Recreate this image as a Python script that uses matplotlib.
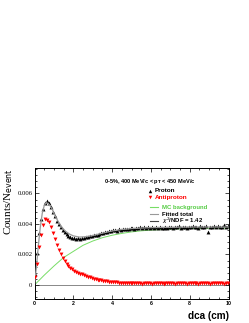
import numpy as np
import matplotlib
matplotlib.use("Agg")
import matplotlib.pyplot as plt
from matplotlib.lines import Line2D
from matplotlib.ticker import MultipleLocator

# ---------------- data ----------------
dca_centers = [round(0.05 + 0.1 * i, 2) for i in range(100)]

proton = [
    0.00075, 0.0021, 0.0034, 0.0043, 0.0050, 0.0054, 0.00552, 0.0054, 0.0051, 0.0048,
    0.0045, 0.0042, 0.0040, 0.0038, 0.0036, 0.00345, 0.00332, 0.00322, 0.00316, 0.0031,
    0.00306, 0.00304, 0.00306, 0.00303, 0.00308, 0.0031, 0.00312, 0.00315, 0.00318, 0.00322,
    0.00325, 0.0033, 0.00328, 0.00336, 0.0034, 0.00343, 0.0035, 0.00348, 0.00355, 0.00353,
    0.00358, 0.0036, 0.00357, 0.00364, 0.00362, 0.00367, 0.00364, 0.0037, 0.00366, 0.00372,
    0.00374, 0.0037, 0.00376, 0.00372, 0.00378, 0.00374, 0.00379, 0.00375, 0.0038, 0.00376,
    0.00378, 0.00373, 0.00379, 0.00375, 0.00381, 0.00376, 0.00373, 0.00379, 0.00376, 0.00382,
    0.00377, 0.00373, 0.0038, 0.00378, 0.00384, 0.00376, 0.00381, 0.00378, 0.00374, 0.00383,
    0.00379, 0.00385, 0.00377, 0.00382, 0.00375, 0.00384, 0.0038, 0.00377, 0.00386, 0.00345,
    0.00381, 0.00378, 0.00385, 0.0038, 0.00388, 0.00379, 0.00383, 0.0039, 0.0038, 0.00384,
]

antiproton = [
    0.0005, 0.0014, 0.0025, 0.0033, 0.0039, 0.0043, 0.00425, 0.0041, 0.0038, 0.0034,
    0.0030, 0.0026, 0.0023, 0.0020, 0.0018, 0.00155, 0.0014, 0.00125, 0.00112, 0.00102,
    0.00094, 0.00087, 0.0008, 0.00074, 0.00069, 0.00063, 0.00059, 0.00054, 0.0005, 0.00046,
    0.00042, 0.00039, 0.00035, 0.00033, 0.0003, 0.00028, 0.00026, 0.00024, 0.00022, 0.00021,
    0.00019, 0.00018, 0.00017, 0.00016, 0.00015, 0.00014, 0.00014, 0.00013, 0.00012, 0.00012,
    0.00011, 0.0001, 0.00012, 0.0001, 0.00011, 0.00009, 0.00011, 0.0001, 0.00012, 0.0001,
    0.00009, 0.00011, 0.0001, 0.00012, 0.0001, 0.00011, 0.00009, 0.0001, 0.00011, 0.0001,
    0.00012, 0.0001, 0.00009, 0.00011, 0.0001, 0.00012, 0.00011, 0.0001, 0.00009, 0.00011,
    0.0001, 0.00012, 0.0001, 0.00011, 0.00009, 0.0001, 0.00012, 0.00011, 0.0001, 0.00011,
    0.00009, 0.0001, 0.00012, 0.0001, 0.00011, 0.0001, 0.00012, 0.00009, 0.00011, 0.0001,
]

bg_x = [0, 0.5, 1.0, 1.5, 2.0, 2.5, 3.0, 3.5, 4.0, 4.5, 5.0, 5.5, 6.0, 7.0, 8.0, 9.0, 10.0]
bg_y = [0, 0.00064, 0.00124, 0.0018, 0.0022, 0.0026, 0.00288, 0.0031, 0.00326, 0.00338,
        0.00348, 0.00355, 0.0036, 0.00366, 0.0037, 0.00372, 0.00373]

fit_x = [0, 0.1, 0.2, 0.3, 0.4, 0.5, 0.6, 0.7, 0.8, 0.9, 1.0, 1.2, 1.4, 1.6, 1.8, 2.0,
         2.3, 2.6, 3.0, 3.5, 4.0, 4.5, 5.0, 6.0, 7.0, 8.0, 10.0]
fit_y = [0, 0.0012, 0.0026, 0.0038, 0.0047, 0.0052, 0.0054, 0.00535, 0.0052, 0.0050,
         0.0047, 0.0042, 0.0038, 0.00352, 0.00334, 0.00322, 0.00314, 0.00316, 0.00324,
         0.0034, 0.00354, 0.00364, 0.0037, 0.00376, 0.00378, 0.0038, 0.0038]

x_ticks = [0, 2, 4, 6, 8, 10]
y_ticks = [0, 0.002, 0.004, 0.006]
y_tick_labels = ["0", "0.002", "0.004", "0.006"]

header = r"0-5%, 400 MeV/c < p$_\mathbf{T}$ < 450 MeV/c"
chi2_label = r"$\chi^2$/NDF = 1.42"

# ---------------- figure ----------------
W, H = 249, 323
fig = plt.figure(figsize=(W / 100, H / 100), dpi=100)
ax = fig.add_axes([34.5 / W, (H - 299.3) / H, (228.5 - 34.5) / W, (299.3 - 168) / H])

ax.set_xlim(0, 10)
ax.set_ylim(-0.00094, 0.00767)

ax.axhline(0, color="#888888", lw=0.7, zorder=1)

ax.plot(bg_x, bg_y, color="#77dd66", lw=0.7, zorder=2)
ax.plot(dca_centers, proton, ls="none", marker="^", ms=2.8, color="black",
        markeredgewidth=0, zorder=3)
ax.plot(fit_x, fit_y, color="#999999", lw=0.9, zorder=4)
ax.plot(dca_centers, antiproton, ls="none", marker="v", ms=2.8, color="red",
        markeredgewidth=0, zorder=5)

sans = ["Liberation Sans", "DejaVu Sans"]
serif = ["Liberation Serif", "DejaVu Serif"]

ax.set_xticks(x_ticks)
ax.set_xticklabels([str(t) for t in x_ticks], fontsize=3.8, fontweight="bold", family=sans)
ax.xaxis.set_minor_locator(MultipleLocator(0.5))
ax.set_yticks(y_ticks)
ax.set_yticklabels(y_tick_labels, fontsize=4.8, family=serif)
ax.yaxis.set_minor_locator(MultipleLocator(0.0004))

ax.tick_params(which="both", direction="in", top=True, right=True, width=0.5, colors="black")
ax.tick_params(which="major", length=3.0, pad=1.5)
ax.tick_params(which="minor", length=1.6)
for s in ax.spines.values():
    s.set_linewidth(0.7)

ax.set_xlabel("dca (cm)", fontsize=7.2, fontweight="bold", family=sans, loc="right", labelpad=3)
ax.set_ylabel(r"Counts/N$_{\mathrm{event}}$", fontsize=8, family=serif, loc="top", labelpad=2)

# legend drawn manually to match ROOT layout
fig.text(150 / W, 1 - 181 / H, header, fontsize=4.1, fontweight="bold", family=sans,
         ha="center", va="center")
lx0, lx1, tx = 150.0, 158.0, 162.0
fig.lines.append(Line2D([150 / W], [1 - 190.5 / H], marker="^", ms=2.5, color="black",
                        markeredgewidth=0, transform=fig.transFigure))
fig.text(155 / W, 1 - 190.5 / H, "Proton", fontsize=4.6, fontweight="bold", family=sans,
         va="center")
fig.lines.append(Line2D([150 / W], [1 - 197 / H], marker="v", ms=2.5, color="red",
                        markeredgewidth=0, transform=fig.transFigure))
fig.text(155 / W, 1 - 197 / H, "Antiproton", fontsize=4.6, fontweight="bold", family=sans,
         va="center", color="red")
rows = [(207.3, "MC background", "#77dd66", "#55cc44"),
        (214.3, "Fitted total", "#999999", "black"),
        (220.5, chi2_label, "#444444", "black")]
for yy, txt, lc, tc in rows:
    fig.lines.append(Line2D([lx0 / W, lx1 / W], [1 - yy / H, 1 - yy / H], color=lc, lw=0.8,
                            transform=fig.transFigure))
    fig.text(tx / W, 1 - yy / H, txt, fontsize=4.3, fontweight="bold", family=sans,
             va="center", color=tc)

fig.savefig("out.png", dpi=100)
